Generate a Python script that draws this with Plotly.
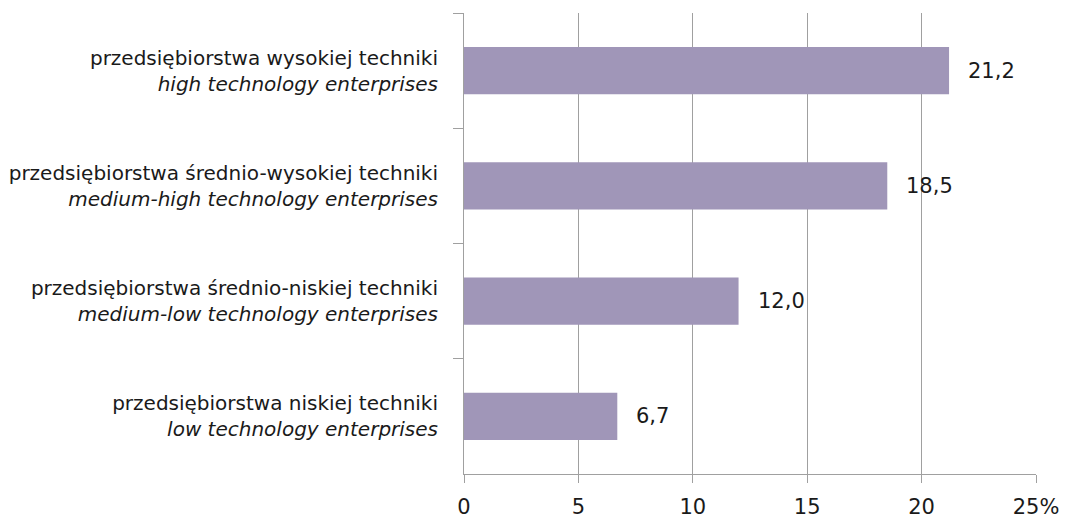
import plotly.graph_objects as go

# Share of enterprises by technology level (%)
categories_pl = [
    "przedsiębiorstwa wysokiej techniki",
    "przedsiębiorstwa średnio-wysokiej techniki",
    "przedsiębiorstwa średnio-niskiej techniki",
    "przedsiębiorstwa niskiej techniki",
]
categories_en = [
    "high technology enterprises",
    "medium-high technology enterprises",
    "medium-low technology enterprises",
    "low technology enterprises",
]
values = [21.2, 18.5, 12.0, 6.7]

x_tickvals = [0, 5, 10, 15, 20, 25]
x_ticktext = ["0", "5", "10", "15", "20", "25%"]

BAR = "#A096B8"
GRID = "#A0A0A0"
TEXT = "#1A1A1A"
FONT = "DejaVu Sans"

labels = [f"{pl}<br><i>{en}</i>" for pl, en in zip(categories_pl, categories_en)]

fig = go.Figure(
    go.Bar(
        x=values,
        y=labels,
        orientation="h",
        marker=dict(color=BAR, line=dict(width=0)),
        width=0.41,
        hoverinfo="skip",
    )
)

# value labels to the right of each bar, with decimal comma
for lab, v in zip(labels, values):
    fig.add_annotation(
        x=v,
        y=lab,
        text=f"{v:.1f}".replace(".", ","),
        showarrow=False,
        xanchor="left",
        yanchor="middle",
        xshift=17,
        font=dict(family=FONT, size=21, color=TEXT),
    )

fig.update_layout(
    width=1067,
    height=518,
    margin=dict(l=464, r=31, t=13, b=44, pad=0),
    paper_bgcolor="white",
    plot_bgcolor="white",
    showlegend=False,
    font=dict(family=FONT, size=20, color=TEXT),
    xaxis=dict(
        range=[0, 25],
        tickvals=x_tickvals,
        ticktext=x_ticktext,
        showgrid=True,
        gridcolor=GRID,
        gridwidth=1,
        zeroline=False,
        showline=True,
        linecolor=GRID,
        linewidth=1,
        ticks="outside",
        ticklen=8,
        tickcolor=GRID,
        tickfont=dict(family=FONT, size=21, color=TEXT),
        ticklabelstandoff=6,
        automargin=False,
        fixedrange=True,
    ),
    yaxis=dict(
        type="category",
        categoryorder="array",
        categoryarray=labels,
        autorange="reversed",
        showgrid=False,
        zeroline=False,
        showline=True,
        linecolor=GRID,
        linewidth=1,
        ticks="outside",
        tickson="boundaries",
        ticklen=10,
        tickcolor=GRID,
        tickfont=dict(family=FONT, size=20, color=TEXT),
        ticklabelstandoff=21,
        automargin=False,
        fixedrange=True,
    ),
)

fig.write_html("out.html", config={"displayModeBar": False})
